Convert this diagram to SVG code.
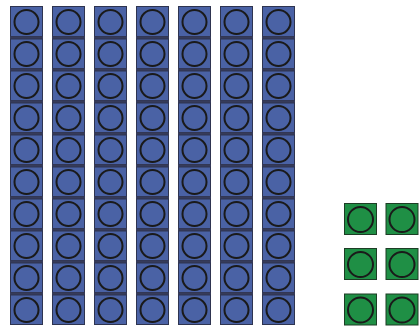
<svg xmlns="http://www.w3.org/2000/svg" width="420" height="328" viewBox="0 0 420 328">
<defs>
<style>
.b{fill:#4a62a5;stroke:#2e3450;stroke-width:1}
.s{fill:#363b5a}
.g{fill:#1f8f45;stroke:#1d3d25;stroke-width:1}
.c{fill:none;stroke:#1a1a1a;stroke-width:2}
</style>
<g id="blk0">
<rect class="b" x="10.5" y="6.5" width="32" height="30"/>
<circle class="c" cx="26.5" cy="22" r="12"/>
</g>
<g id="blk">
<rect class="s" x="10" y="4.5" width="33" height="2.5"/>
<rect class="b" x="10.5" y="7" width="32" height="29.5"/>
<circle class="c" cx="26.5" cy="22" r="12"/>
</g>
<g id="col">
<use href="#blk0"/><use href="#blk" y="32"/><use href="#blk" y="64"/><use href="#blk" y="96"/><use href="#blk" y="128"/><use href="#blk" y="160"/><use href="#blk" y="192"/><use href="#blk" y="224"/><use href="#blk" y="256"/><use href="#blk" y="288"/>
</g>
<g id="gsq">
<rect class="g" x="344.5" y="203.5" width="32" height="31"/>
<circle class="c" cx="360.5" cy="219.5" r="12.5"/>
</g>
</defs>
<g id="blue-blocks">
<use href="#col"/>
<use href="#col" x="42"/>
<use href="#col" x="84"/>
<use href="#col" x="126"/>
<use href="#col" x="168"/>
<use href="#col" x="210"/>
<use href="#col" x="252"/>
</g>
<g id="green-blocks">
<use href="#gsq"/>
<use href="#gsq" x="41.5"/>
<use href="#gsq" y="45"/>
<use href="#gsq" x="41.5" y="45"/>
<use href="#gsq" y="90.5"/>
<use href="#gsq" x="41.5" y="90.5"/>
</g>
<g id="connectors"/>
</svg>
